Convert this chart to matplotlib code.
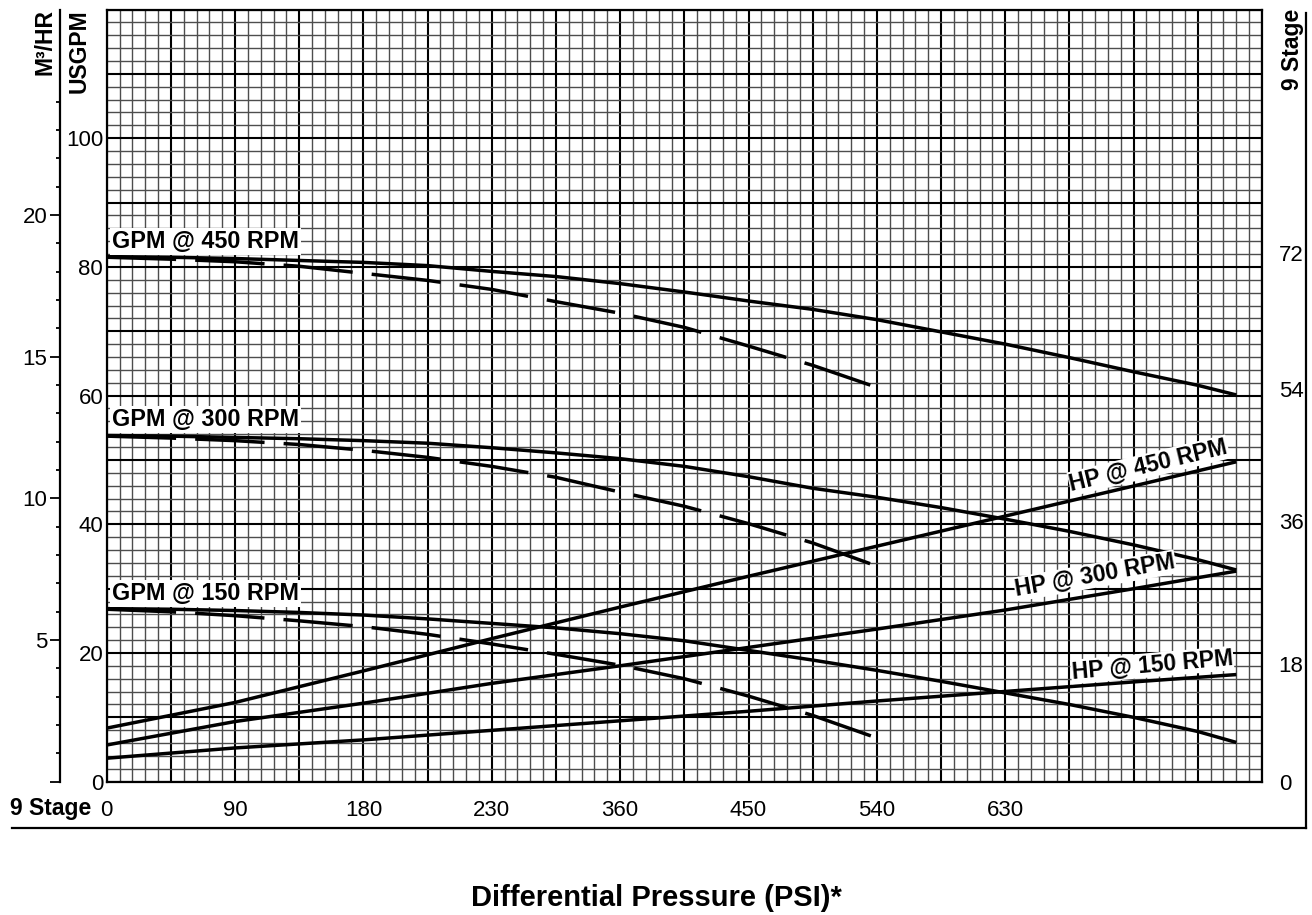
import numpy as np
import matplotlib.pyplot as plt
from matplotlib.lines import Line2D
from matplotlib.ticker import MultipleLocator, FixedLocator, FuncFormatter

plt.rcParams['font.family'] = ['Liberation Sans', 'DejaVu Sans']

# differential pressure (PSI) sample points
psi_solid = [0, 45, 90, 135, 180, 225, 270, 315, 360, 405, 450, 495, 540, 585, 630, 675, 720, 765, 792]
psi_dashed = [0, 45, 90, 135, 180, 225, 270, 315, 360, 405, 450, 495, 545]
psi_hp = [0, 90, 180, 270, 360, 450, 540, 630, 720, 792]

# flow (USGPM), solid curves
gpm_450 = [81.6, 81.5, 81.3, 81.0, 80.7, 80.2, 79.3, 78.5, 77.4, 76.1, 74.7, 73.4, 71.8, 69.9, 68.0, 65.9, 63.7, 61.6, 60.1]
gpm_300 = [53.8, 53.7, 53.5, 53.3, 53.0, 52.6, 51.9, 51.1, 50.2, 49.0, 47.4, 45.6, 44.2, 42.6, 40.8, 38.9, 36.8, 34.5, 32.9]
gpm_150 = [26.9, 26.8, 26.6, 26.3, 25.9, 25.3, 24.6, 23.9, 23.0, 21.9, 20.4, 18.9, 17.3, 15.6, 13.8, 12.0, 10.0, 7.8, 6.1]

# flow (USGPM), dashed curves
gpm_450_dashed = [81.5, 81.2, 80.8, 80.1, 79.0, 77.9, 76.5, 74.6, 72.8, 70.6, 67.7, 64.7, 60.9]
gpm_300_dashed = [53.7, 53.4, 53.0, 52.4, 51.5, 50.4, 49.0, 47.3, 45.0, 42.8, 40.1, 37.1, 33.1]
gpm_150_dashed = [26.8, 26.4, 25.8, 25.0, 24.1, 22.9, 21.4, 19.8, 18.1, 16.0, 13.3, 10.3, 6.4]

# horsepower (right scale)
hp_450 = [7.3, 10.8, 15.1, 19.5, 23.8, 28.0, 32.1, 36.2, 40.3, 43.6]
hp_300 = [5.0, 8.2, 10.7, 13.4, 15.8, 18.3, 20.8, 23.4, 26.3, 28.7]
hp_150 = [3.2, 4.6, 5.7, 7.0, 8.3, 9.6, 11.0, 12.3, 13.6, 14.6]

# ticks
psi_ticks = [0, 90, 180, 270, 360, 450, 540, 630]
psi_tick_labels = ["0", "90", "180", "230", "360", "450", "540", "630"]
gpm_ticks = [0, 20, 40, 60, 80, 100]
m3_ticks = [0, 5, 10, 15, 20]
stage_ticks = [0, 16, 35.5, 53.5, 72]
stage_tick_labels = ["0", "18", "36", "54", "72"]

GPM_PER_M3 = 4.403

W, H = 1312, 915
fig = plt.figure(figsize=(W / 100, H / 100), dpi=100)
ax = fig.add_axes([106.7 / W, 1 - 781.7 / H, 1155.3 / W, 772.2 / H])

ax.set_xlim(0, 810)
ax.set_ylim(0, 120)

ax.xaxis.set_major_locator(MultipleLocator(45))
ax.xaxis.set_minor_locator(MultipleLocator(9))
ax.yaxis.set_major_locator(MultipleLocator(10))
ax.yaxis.set_minor_locator(MultipleLocator(2))

def psi_fmt(v, pos):
	for t, lab in zip(psi_ticks, psi_tick_labels):
		if abs(v - t) < 1e-6:
			return lab
	return ""

def gpm_fmt(v, pos):
	for t in gpm_ticks:
		if abs(v - t) < 1e-6:
			return str(t)
	return ""

ax.xaxis.set_major_formatter(FuncFormatter(psi_fmt))
ax.yaxis.set_major_formatter(FuncFormatter(gpm_fmt))
ax.tick_params(which='both', length=0, labelsize=16)
ax.tick_params(axis='x', pad=13)
ax.tick_params(axis='y', pad=2.5)

ax.set_axisbelow(True)
ax.grid(which='minor', color='0.3', lw=1.0)
ax.grid(which='major', color='black', lw=1.5)
for s in ax.spines.values():
	s.set_linewidth(1.6)

# GPM curves
lw = 2.5
for y in (gpm_450, gpm_300, gpm_150):
	ax.plot(psi_solid, y, color='black', lw=lw, solid_capstyle='butt')
for y in (gpm_450_dashed, gpm_300_dashed, gpm_150_dashed):
	ax.plot(psi_dashed, y, color='black', lw=lw, dashes=(20, 5.5))

lab_style = dict(fontsize=16.8, fontweight='bold', ha='left', va='center',
	bbox=dict(facecolor='white', edgecolor='none', pad=1.5))
ax.text(3.5, 84.0, "GPM @ 450 RPM", **lab_style)
ax.text(3.5, 56.3, "GPM @ 300 RPM", **lab_style)
ax.text(3.5, 29.3, "GPM @ 150 RPM", **lab_style)

# M3/HR scale
ax_m3 = ax.secondary_yaxis(-0.0404, functions=(lambda g: g / GPM_PER_M3, lambda m: m * GPM_PER_M3))
ax_m3.yaxis.set_major_locator(FixedLocator(m3_ticks))
ax_m3.yaxis.set_minor_locator(FixedLocator(range(1, 25)))
ax_m3.yaxis.set_major_formatter(FuncFormatter(lambda v, p: "" if v == 0 else f"{v:.0f}"))
ax_m3.tick_params(which='major', direction='out', length=7, width=1.3, labelsize=16, pad=2)
ax_m3.tick_params(which='minor', direction='out', length=3, width=1.3)
ax_m3.spines['left'].set_linewidth(1.6)

# horsepower scale (right)
ax2 = ax.twinx()
ax2.set_ylim(0, 120 * 72 / 82.1)
ax2.set_yticks(stage_ticks, stage_tick_labels)
ax2.tick_params(length=0, labelsize=16, pad=12)
for s in ax2.spines.values():
	s.set_visible(False)

for y in (hp_450, hp_300, hp_150):
	ax2.plot(psi_hp, y, color='black', lw=lw, solid_capstyle='butt')

hp_style = dict(fontsize=16.5, fontweight='bold', ha='center', va='center',
	rotation_mode='anchor', bbox=dict(facecolor='white', edgecolor='none', pad=0.5))
ax2.text(730.5, 43.1, "HP @ 450 RPM", rotation=13.5, **hp_style)
ax2.text(693, 28.1, "HP @ 300 RPM", rotation=10, **hp_style)
ax2.text(733, 15.9, "HP @ 150 RPM", rotation=5, **hp_style)

# axis titles
bold = dict(fontsize=16.5, fontweight='bold')
fig.text(45 / W, 1 - 9 / H, "M³/HR", rotation=90, ha='center', va='top', **bold)
fig.text(79 / W, 1 - 9 / H, "USGPM", rotation=90, ha='center', va='top', **bold)
fig.text(1292 / W, 1 - 9 / H, "9 Stage", rotation=90, ha='center', va='top', **bold)
fig.text(10 / W, 1 - 808 / H, "9 Stage", ha='left', va='center', **bold)
fig.text(0.5, 1 - 906 / H, "Differential Pressure (PSI)*", ha='center', va='baseline',
	fontsize=21, fontweight='bold')

# outer frame (right and bottom)
fig.add_artist(Line2D([12 / W, 1306 / W], [1 - 828 / H, 1 - 828 / H], color='black', lw=1.6))
fig.add_artist(Line2D([1306 / W, 1306 / W], [1 - 13 / H, 1 - 828 / H], color='black', lw=1.6))

fig.savefig("out.png", dpi=100)
